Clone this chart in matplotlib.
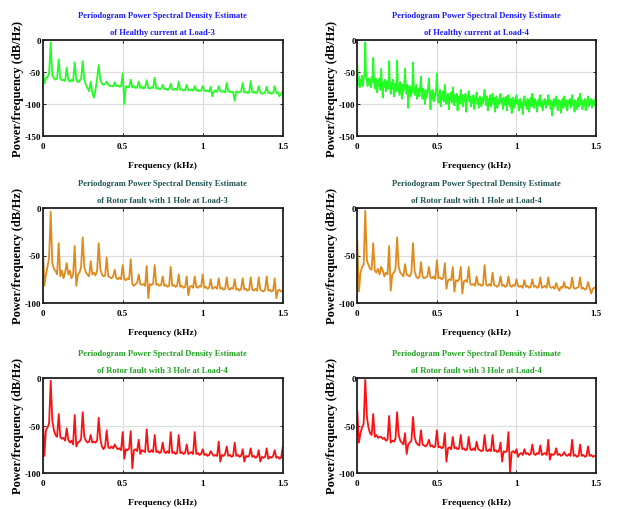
import numpy as np
import matplotlib
matplotlib.use("Agg")
import matplotlib.pyplot as plt

# ---------------- data ----------------
freq_khz = np.round(np.arange(151) * 0.01, 2)          # 0 .. 1.5 kHz, step 10 Hz
freq_fine_khz = np.round(np.arange(301) * 0.005, 3)    # 0 .. 1.5 kHz, step 5 Hz

healthy_load3 = [
    -40, -68, -60, -58, -52, -4, -55, -60, -62, -60,
    -30, -60, -63, -62, -64, -43, -63, -65, -62, -64,
    -35, -62, -66, -64, -60, -33, -62, -70, -75, -80,
    -65, -82, -90, -78, -60, -39, -62, -68, -70, -69,
    -65, -70, -72, -71, -73, -66, -72, -71, -73, -72,
    -52, -100, -72, -74, -73, -62, -74, -72, -75, -74,
    -65, -75, -73, -76, -74, -63, -75, -76, -74, -75,
    -59, -76, -75, -77, -76, -70, -77, -76, -78, -77,
    -68, -77, -78, -76, -78, -65, -78, -77, -79, -78,
    -70, -78, -79, -77, -79, -72, -79, -78, -80, -79,
    -72, -79, -80, -79, -81, -73, -88, -80, -79, -81,
    -72, -80, -81, -80, -82, -67, -81, -80, -82, -81,
    -95, -80, -82, -81, -80, -67, -82, -81, -83, -82,
    -64, -82, -81, -83, -82, -72, -82, -84, -83, -82,
    -73, -83, -82, -84, -83, -72, -83, -82, -88, -84,
    -80,
]

healthy_load4 = [
    -40, -70, -58, -74, -62, -66, -56, -72, -60, -54, -4, -58, -64, -72, -60, -68, -62, -74, -58, -66,
    -28, -64, -76, -60, -70, -82, -64, -72, -60, -78, -45, -68, -90, -66, -74, -62, -80, -70, -64, -76,
    -33, -70, -84, -66, -76, -62, -88, -72, -68, -80, -32, -70, -78, -86, -66, -74, -92, -70, -80, -72,
    -45, -76, -84, -70, -106, -78, -72, -88, -74, -82, -35, -74, -86, -78, -70, -92, -80, -76, -88, -74,
    -57, -80, -92, -76, -86, -100, -78, -90, -82, -74, -60, -84, -108, -80, -92, -78, -96, -84, -88, -76,
    -52, -82, -98, -86, -78, -104, -88, -92, -80, -96, -70, -86, -100, -90, -84, -108, -88, -94, -82, -98,
    -74, -90, -102, -86, -96, -84, -110, -92, -88, -100, -78, -94, -86, -104, -90, -96, -84, -112, -92, -88,
    -80, -96, -88, -104, -92, -98, -86, -108, -94, -90, -82, -100, -92, -106, -88, -96, -104, -90, -98, -86,
    -78, -94, -102, -88, -110, -92, -98, -86, -104, -94, -84, -100, -90, -112, -96, -88, -106, -94, -100, -90,
    -84, -98, -92, -108, -90, -102, -96, -88, -110, -94, -86, -100, -104, -92, -114, -96, -90, -106, -98, -92,
    -86, -100, -94, -110, -96, -92, -106, -98, -116, -94, -88, -102, -96, -108, -92, -100, -112, -96, -90, -104,
    -84, -98, -106, -92, -100, -96, -112, -94, -102, -90, -86, -104, -98, -110, -94, -100, -92, -106, -96, -102,
    -86, -100, -94, -108, -96, -118, -98, -92, -104, -96, -88, -102, -110, -94, -100, -96, -114, -98, -92, -106,
    -88, -98, -104, -94, -110, -96, -100, -92, -106, -98, -86, -102, -96, -112, -94, -100, -108, -96, -90, -104,
    -84, -100, -94, -108, -96, -102, -92, -110, -98, -94, -88, -104, -96, -100, -92, -106, -98, -94, -102, -96,
    -86,
]

rotor1_load3 = [
    -35, -82, -70, -62, -52, -4, -58, -64, -66, -70,
    -37, -72, -66, -74, -68, -58, -70, -66, -74, -70,
    -40, -82, -70, -68, -62, -31, -62, -68, -70, -72,
    -56, -70, -68, -71, -66, -37, -64, -70, -72, -71,
    -52, -72, -73, -74, -72, -65, -74, -75, -73, -75,
    -60, -75, -76, -74, -75, -54, -80, -82, -80, -79,
    -70, -80, -81, -80, -82, -61, -95, -80, -81, -80,
    -60, -81, -80, -82, -81, -72, -82, -81, -83, -82,
    -62, -82, -81, -83, -82, -70, -83, -82, -84, -83,
    -72, -92, -83, -82, -84, -72, -83, -84, -82, -83,
    -70, -84, -83, -85, -84, -75, -85, -84, -83, -85,
    -74, -85, -84, -86, -85, -73, -85, -86, -84, -85,
    -75, -86, -85, -87, -85, -74, -86, -85, -87, -86,
    -73, -86, -87, -85, -87, -73, -86, -87, -88, -86,
    -72, -87, -86, -88, -87, -74, -95, -87, -86, -88,
    -87,
]

rotor1_load4 = [
    -35, -88, -68, -62, -60, -3, -55, -60, -64, -65,
    -37, -66, -68, -64, -70, -62, -66, -72, -68, -70,
    -40, -87, -70, -68, -64, -31, -62, -68, -70, -72,
    -59, -70, -71, -72, -68, -37, -66, -72, -74, -73,
    -57, -72, -74, -73, -72, -62, -73, -74, -72, -75,
    -55, -74, -73, -75, -74, -58, -85, -76, -75, -76,
    -62, -88, -76, -77, -75, -62, -90, -77, -76, -78,
    -62, -80, -81, -80, -82, -72, -81, -80, -82, -81,
    -60, -81, -82, -80, -82, -68, -81, -82, -83, -81,
    -72, -82, -81, -83, -82, -72, -82, -83, -81, -82,
    -75, -82, -83, -82, -84, -76, -83, -82, -84, -83,
    -75, -83, -82, -84, -83, -73, -84, -83, -82, -84,
    -73, -83, -84, -83, -85, -79, -84, -87, -83, -84,
    -78, -84, -83, -85, -84, -73, -84, -85, -84, -83,
    -73, -85, -84, -86, -85, -78, -84, -90, -85, -84,
    -84,
]

rotor3_load4_a = [
    -35, -82, -55, -52, -48, -3, -45, -55, -60, -62,
    -38, -62, -64, -63, -66, -53, -65, -68, -66, -70,
    -39, -72, -68, -67, -64, -36, -62, -66, -68, -67,
    -60, -68, -67, -68, -66, -42, -64, -72, -75, -72,
    -55, -73, -74, -72, -74, -70, -73, -75, -74, -76,
    -57, -85, -75, -76, -74, -56, -95, -76, -75, -77,
    -65, -80, -76, -77, -78, -54, -77, -78, -76, -78,
    -60, -78, -77, -79, -78, -68, -78, -79, -77, -79,
    -57, -79, -78, -80, -79, -60, -79, -78, -80, -79,
    -70, -80, -79, -78, -80, -57, -80, -79, -81, -80,
    -75, -81, -80, -82, -81, -77, -80, -82, -81, -82,
    -67, -88, -81, -82, -80, -72, -82, -81, -83, -82,
    -68, -82, -81, -83, -82, -75, -88, -82, -83, -82,
    -74, -83, -82, -84, -83, -76, -88, -83, -84, -83,
    -74, -85, -83, -84, -82, -76, -84, -83, -85, -84,
    -73,
]

rotor3_load4_b = [
    -35, -68, -58, -52, -48, -2, -40, -52, -58, -60,
    -38, -62, -60, -63, -62, -62, -64, -63, -66, -65,
    -40, -68, -66, -67, -64, -36, -60, -66, -68, -70,
    -58, -80, -70, -68, -66, -41, -62, -68, -70, -71,
    -55, -70, -71, -72, -70, -65, -72, -71, -73, -72,
    -55, -73, -72, -74, -73, -58, -88, -74, -73, -75,
    -62, -74, -73, -75, -74, -60, -75, -74, -76, -75,
    -62, -75, -76, -74, -76, -67, -75, -76, -77, -76,
    -60, -76, -77, -75, -77, -60, -77, -76, -78, -77,
    -68, -88, -77, -78, -77, -57, -100, -78, -77, -79,
    -75, -83, -80, -79, -81, -75, -80, -79, -81, -80,
    -70, -80, -81, -79, -80, -71, -81, -80, -79, -81,
    -65, -86, -80, -81, -80, -74, -81, -80, -82, -81,
    -78, -81, -82, -80, -82, -65, -82, -81, -83, -82,
    -70, -82, -81, -83, -82, -72, -82, -81, -83, -82,
    -82,
]

titles_line2 = [
    "of Healthy current at Load-3",
    "of Healthy current at Load-4",
    "of Rotor fault with 1 Hole at Load-3",
    "of Rotor fault with 1 Hole at Load-4",
    "of Rotor fault with 3 Hole at Load-4",
    "of Rotor fault with 3 Hole at Load-4",
]
title_line1 = "Periodogram Power Spectral Density Estimate"
x_ticks = [0, 0.5, 1, 1.5]
x_tick_labels = ["0", "0.5", "1", "1.5"]
y_ticks_top = [-150, -100, -50, 0]
y_ticks_low = [-100, -50, 0]

# ---------------- figure ----------------
W, H = 623, 510
fig = plt.figure(figsize=(W / 100, H / 100), dpi=100)
fig.patch.set_facecolor("white")

serif = ["Liberation Serif", "DejaVu Serif"]

def px_axes(x0, y0, x1, y1):
    return fig.add_axes([x0 / W, 1 - y1 / H, (x1 - x0) / W, (y1 - y0) / H])

panels = [
    (42.7, 41, 282.7, 137, freq_khz, healthy_load3, "#22ff22", "#1a1aff", (-150, 0), y_ticks_top),
    (357.3, 41, 596, 137, freq_fine_khz, healthy_load4, "#22ff22", "#1a1aff", (-150, 0), y_ticks_top),
    (42.7, 209, 282.7, 304, freq_khz, rotor1_load3, "#e08a1c", "#1f5252", (-100, 0), y_ticks_low),
    (357.3, 209, 596, 304, freq_khz, rotor1_load4, "#e08a1c", "#1f5252", (-100, 0), y_ticks_low),
    (42.7, 379, 282.7, 474, freq_khz, rotor3_load4_a, "#ff1010", "#22a022", (-100, 0), y_ticks_low),
    (357.3, 379, 596, 474, freq_khz, rotor3_load4_b, "#ff1010", "#22a022", (-100, 0), y_ticks_low),
]

for i, (x0, y0, x1, y1, fx, vals, lc, tc, ylim, yt) in enumerate(panels):
    ax = px_axes(x0, y0, x1, y1)
    ax.plot(fx, vals, color=lc, lw=1.3)
    ax.set_xlim(0, 1.5)
    ax.set_ylim(*ylim)
    ax.set_xticks(x_ticks)
    ax.set_xticklabels(x_tick_labels)
    ax.set_yticks(yt)
    ax.set_yticklabels([str(v) for v in yt])
    ax.grid(True, color="#dedede", lw=0.9)
    ax.set_axisbelow(True)
    ax.tick_params(direction="in", length=2.5, width=0.6, labelsize=6.5,
                   top=True, right=True)
    ax.tick_params(axis="x", pad=4.3)
    ax.tick_params(axis="y", pad=1.2)
    for lab in ax.get_xticklabels() + ax.get_yticklabels():
        lab.set_fontfamily(serif)
        lab.set_fontweight("bold")
    for s in ax.spines.values():
        s.set_linewidth(1.3)
        s.set_color("#222222")
    ax.set_title(title_line1 + "\n" + titles_line2[i], color=tc, fontsize=6.1,
                 fontweight="bold", family=serif, pad=4.5, linespacing=2.45)
    ax.set_xlabel("Frequency (kHz)", fontsize=6.8, fontweight="bold", family=serif)
    ax.xaxis.set_label_coords(0.5, -25.0 / (y1 - y0))
    ax.set_ylabel("Power/frequency (dB/Hz)", fontsize=9.0, fontweight="bold", family=serif)
    ax.yaxis.set_label_coords(-19.0 / (x1 - x0), 0.5)

fig.savefig("out.png", dpi=100, facecolor="white")
